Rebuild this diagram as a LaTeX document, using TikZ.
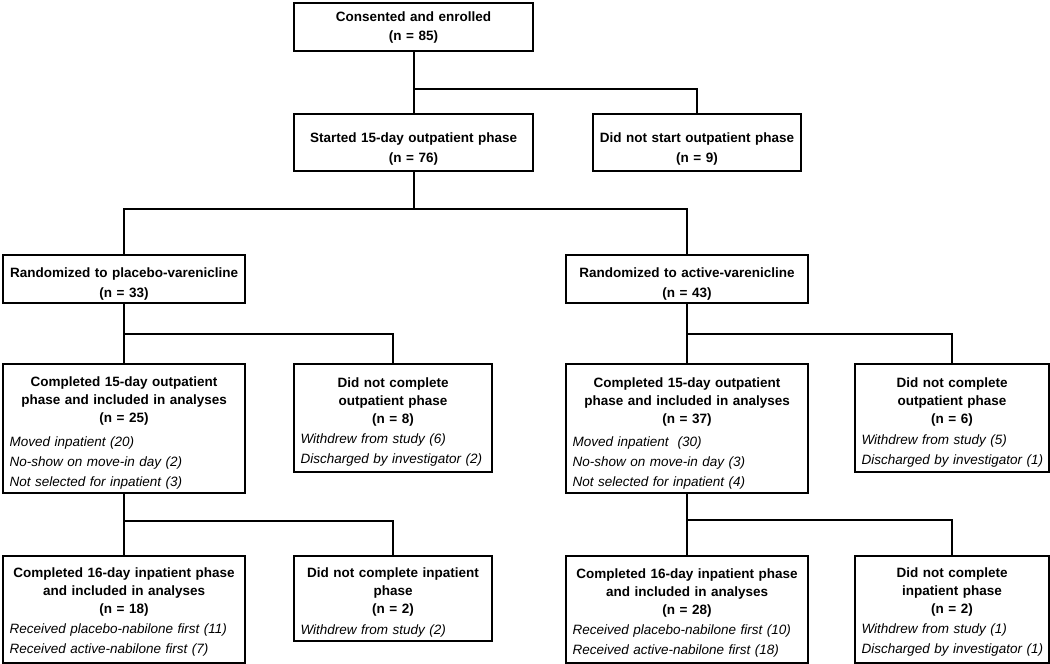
\documentclass[tikz,border=0pt]{standalone}
\usepackage{fontspec}
\setmainfont{Liberation Sans}
\tikzset{
  box/.style={draw, line width=2.1pt, inner xsep=6.5pt, inner ysep=0pt, anchor=north west,
    font=\fontsize{13.5}{18.5}\selectfont},
  conn/.style={line width=2.1pt},
}
% \bnode{name}{x1}{y1}{x2}{y2}{first baseline}{content}
\newcommand\bnode[7]{%
  \pgfmathsetmacro\bxtw{#4-#2-13}%
  \pgfmathsetmacro\bxth{#6-#3}%
  \pgfmathsetmacro\bxtd{#5-#6}%
  \node[box, text width=\bxtw pt, text height=\bxth pt, text depth=\bxtd pt] (#1) at (#2,#3) {#7};}
\newcommand\hd[2][18.3]{{\parindent=0pt\fontsize{13.5}{#1}\selectfont\centering\bfseries #2\par}}
\newcommand\il[2]{\vspace{#1pt}{\parindent=0pt\raggedright\itshape\fontsize{13.5}{20}\selectfont #2}}
\newcommand\li[1]{\mbox{#1}\par}
\begin{document}
\begin{tikzpicture}[x=1pt,y=-1pt]
\useasboundingbox (0,0) rectangle (1050,664);

\bnode{cons}{293}{2}{532}{50}{20}{\hd[19.5]{Consented and enrolled\\(n = 85)}}
\bnode{start}{293}{113}{532}{170}{141}{\hd[20]{Started 15-day outpatient phase\\(n = 76)}}
\bnode{nostart}{592}{113}{800}{170}{141}{\hd[20]{Did not start outpatient phase\\(n = 9)}}

\bnode{plac}{2}{254}{244}{302}{276}{\hd[20.5]{Randomized to placebo-varenicline\\(n = 33)}}
\bnode{act}{565}{254}{807}{302}{276}{\hd[20.5]{Randomized to active-varenicline\\(n = 43)}}

\bnode{cop}{2}{363}{244}{492}{385}{\hd{Completed 15-day outpatient\\phase and included in analyses\\(n = 25)}%
  \il{3.5}{\li{Moved inpatient (20)}\li{No-show on move-in day (2)}\li{Not selected for inpatient (3)}}}
\bnode{ncop}{293}{363}{491}{471}{386}{\hd{Did not complete\\outpatient phase\\(n = 8)}%
  \il{0}{\li{Withdrew from study (6)}\li{Discharged by investigator (2)}}}
\bnode{coa}{565}{363}{807}{492}{386}{\hd{Completed 15-day outpatient\\phase and included in analyses\\(n = 37)}%
  \il{2.5}{\li{Moved inpatient\ \ (30)}\li{No-show on move-in day (3)}\li{Not selected for inpatient (4)}}}
\bnode{ncoa}{854}{363}{1048}{471}{386}{\hd{Did not complete\\outpatient phase\\(n = 6)}%
  \il{0.5}{\li{Withdrew from study (5)}\li{Discharged by investigator (1)}}}

\bnode{cip}{2}{555}{244}{662}{576}{\hd{Completed 16-day inpatient phase\\and included in analyses\\(n = 18)}%
  \il{0}{\li{Received placebo-nabilone first (11)}\li{Received active-nabilone first (7)}}}
\bnode{ncip}{293}{555}{491}{640}{576}{\hd{Did not complete inpatient\\phase\\(n = 2)}%
  \il{0.5}{\li{Withdrew from study (2)}}}
\bnode{cia}{565}{555}{807}{662}{577}{\hd{Completed 16-day inpatient phase\\and included in analyses\\(n = 28)}%
  \il{0}{\li{Received placebo-nabilone first (10)}\li{Received active-nabilone first (18)}}}
\bnode{ncia}{854}{555}{1048}{662}{576}{\hd{Did not complete\\inpatient phase\\(n = 2)}%
  \il{0}{\li{Withdrew from study (1)}\li{Discharged by investigator (1)}}}

% junctions
\path (cons.south) ++(0,37) coordinate (j1);
\path (start.south) ++(0,37) coordinate (j2);
\path (plac.south) ++(0,30) coordinate (j3);
\path (act.south) ++(0,30) coordinate (j4);
\path (cop.south) ++(0,27) coordinate (j5);
\path (coa.south) ++(0,26) coordinate (j6);

\draw[conn] (cons.south) -- (start.north);
\draw[conn] (j1) -| (nostart.north);
\draw[conn] (start.south) -- (j2);
\draw[conn] (plac.north) |- (j2) -| (act.north);
\draw[conn] (plac.south) -- (cop.north);
\draw[conn] (j3) -| (ncop.north);
\draw[conn] (act.south) -- (coa.north);
\draw[conn] (j4) -| (ncoa.north);
\draw[conn] (cop.south) -- (cip.north);
\draw[conn] (j5) -| (ncip.north);
\draw[conn] (coa.south) -- (cia.north);
\draw[conn] (j6) -| (ncia.north);
\end{tikzpicture}
\end{document}
